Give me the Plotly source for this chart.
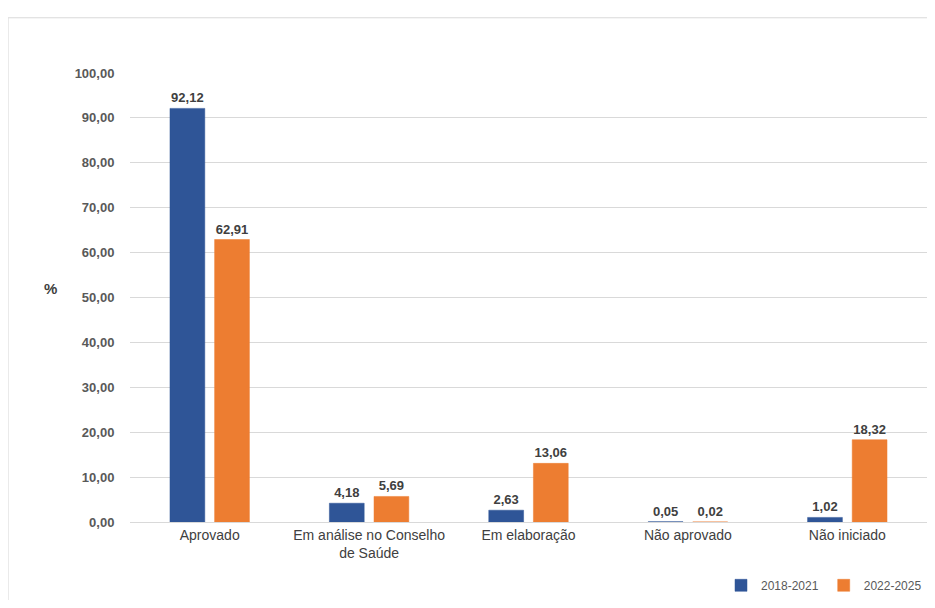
import plotly.graph_objects as go

categories = ["Aprovado", "Em análise no Conselho<br>de Saúde", "Em elaboração", "Não aprovado", "Não iniciado"]
v_2018 = [92.12, 4.18, 2.63, 0.05, 1.02]
v_2022 = [62.91, 5.69, 13.06, 0.02, 18.32]
tick_vals = [0, 10, 20, 30, 40, 50, 60, 70, 80, 90, 100]
tick_text = ["<b>" + ("%.2f" % v).replace(".", ",") + "</b>" for v in tick_vals]

def fmt(v):
    return "<b>" + ("%.2f" % v).replace(".", ",") + "</b>"

fig = go.Figure()
fig.add_trace(go.Bar(x=categories, y=v_2018, name="2018-2021", marker_color="#2F5597",
                     marker_line=dict(color="#2F5597", width=0.5),
                     text=[fmt(v) for v in v_2018], textposition="outside",
                     textfont=dict(size=13, color="#404040"), cliponaxis=False))
fig.add_trace(go.Bar(x=categories, y=v_2022, name="2022-2025", marker_color="#ED7D31",
                     marker_line=dict(color="#ED7D31", width=0.5),
                     text=[fmt(v) for v in v_2022], textposition="outside",
                     textfont=dict(size=13, color="#404040"), cliponaxis=False))

fig.update_layout(
    width=919, height=592,
    margin=dict(l=122, r=0, t=65, b=66),
    barmode="group", bargap=0.44, bargroupgap=0.22,
    plot_bgcolor="white", paper_bgcolor="white",
    font=dict(family="Liberation Sans", size=14, color="#404040"),
    legend=dict(orientation="h", x=1.0, xanchor="right", y=-0.141, yanchor="middle",
                font=dict(size=12, color="#595959")),
    shapes=[
        dict(type="line", xref="paper", yref="paper", x0=-0.153, x1=-0.153, y0=-0.2, y1=1.123,
             line=dict(color="#D9D9D9", width=1)),
        dict(type="line", xref="paper", yref="paper", x0=-0.153, x1=1.01, y0=1.123, y1=1.123,
             line=dict(color="#D9D9D9", width=1)),
    ],
    annotations=[dict(text="<b>%</b>", xref="paper", yref="paper", x=-0.11, y=0.52,
                      showarrow=False, font=dict(size=15, color="#404040"))],
)
fig.update_yaxes(range=[0, 100], tickvals=tick_vals, ticktext=tick_text, showgrid=True,
                 gridcolor="#D9D9D9", zeroline=False, tickfont=dict(size=13, color="#595959"),
                 ticks="outside", ticklen=12, tickcolor="white")
fig.update_xaxes(showline=True, linecolor="#D9D9D9", tickfont=dict(size=14, color="#404040"))

fig.write_html("out.html")
